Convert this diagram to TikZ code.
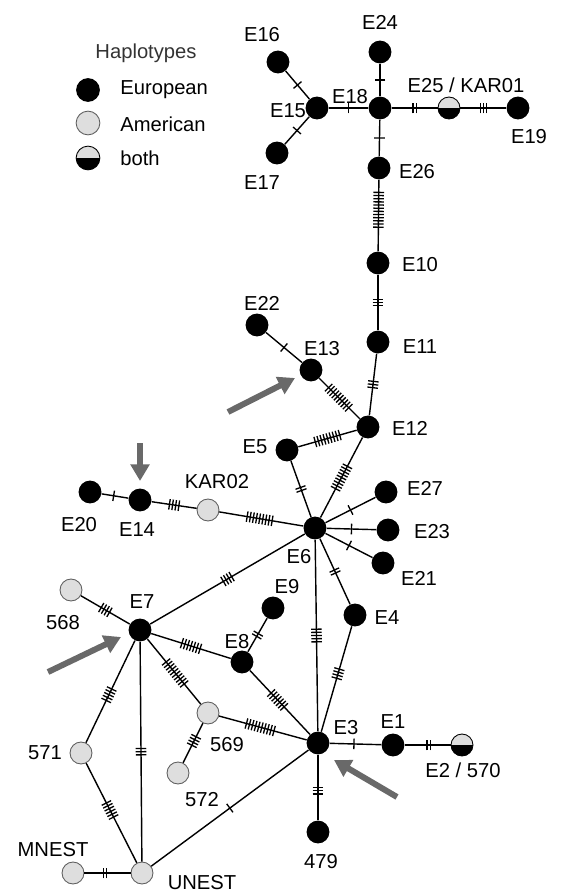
\documentclass[tikz,border=0pt]{standalone}
\usepackage{fontspec}
\setmainfont{Liberation Sans}
\usetikzlibrary{arrows.meta}

\definecolor{amgray}{RGB}{222,222,222}
\definecolor{rimgray}{RGB}{95,95,95}
\definecolor{arrowgray}{RGB}{105,105,105}

\tikzset{
  eu/.style={circle, fill=black, inner sep=0pt, minimum size=13pt},
  am/.style={circle, fill=amgray, draw=rimgray, line width=0.5pt, inner sep=0pt, minimum size=12.5pt},
  both/.style={am, draw=black, path picture={\fill[black] (path picture bounding box.west) rectangle (path picture bounding box.south east);}},
  lbl/.style={inner sep=0pt, font=\fontsize{11.5}{13}\selectfont},
  link/.style={line width=0.8pt},
  pointer/.style={arrowgray, line width=3.4pt, -{Triangle[length=9.5pt,width=10.5pt]}},
  mut/.pic={\foreach \k in {1,...,#1} \draw[line width=0.75pt] ({(\k-(#1+1)/2)*1.8pt},-3pt) -- ++(0,6pt);}
}

\begin{document}
\begin{tikzpicture}[x=0.02cm, y=-0.02cm]
\useasboundingbox (0,0) rectangle (568,892);

% legend
\node[lbl, text=black!80] (legtitle) at (146,53) {Haplotypes};
\node[eu, minimum size=13.5pt] (legeu) at (88,90) {};
\node[am, minimum size=13.5pt] (legam) at (88,123) {};
\node[both, minimum size=13.5pt] (legboth) at (88,158) {};
\node[lbl, anchor=west] (legeut) at (120,90) {European};
\node[lbl, anchor=west] (legamt) at (120,124) {American};
\node[lbl, anchor=west] (legbotht) at (120,158) {both};

% haplotypes
\node[eu] (E16) at (278,62) {};
\node[eu] (E15) at (317,108) {};
\node[eu] (E17) at (277,153) {};
\node[eu] (E18) at (380,108) {};
\node[eu] (E24) at (380,52) {};
\node[both] (E25) at (449,108) {};
\node[eu] (E19) at (518,108) {};
\node[eu] (E26) at (379,168) {};
\node[eu] (E10) at (378,263) {};
\node[eu] (E11) at (378,342) {};
\node[eu] (E12) at (368,427) {};
\node[eu] (E22) at (257,325) {};
\node[eu] (E13) at (311,370) {};
\node[eu] (E5) at (287,450) {};
\node[eu] (E6) at (315,528) {};
\node[eu] (E27) at (386,492) {};
\node[eu] (E23) at (388,530) {};
\node[eu] (E21) at (383,563) {};
\node[eu] (E4) at (355,615) {};
\node[eu] (E20) at (90,492) {};
\node[eu] (E14) at (140,500) {};
\node[am] (KAR02) at (208,510) {};
\node[eu] (E7) at (140,630) {};
\node[am] (n568) at (71,590) {};
\node[eu] (E9) at (273,608) {};
\node[eu] (E8) at (242,662) {};
\node[am] (n569) at (208,713) {};
\node[am] (n572) at (178,773) {};
\node[am] (n571) at (81,753) {};
\node[eu] (E3) at (318,743) {};
\node[eu] (E1) at (393,745) {};
\node[both] (E2) at (462,745) {};
\node[eu] (n479) at (318,832) {};
\node[am] (MNEST) at (73,873) {};
\node[am] (UNEST) at (142,873) {};

% links with mutation steps
\draw[link] (E15) -- (E16) pic[pos=.5,sloped]{mut=1};
\draw[link] (E15) -- (E17) pic[pos=.5,sloped]{mut=1};
\draw[link] (E15) -- (E18) pic[pos=.5,sloped]{mut=1};
\draw[link] (E18) -- (E24) pic[pos=.5,sloped]{mut=1};
\draw[link] (E18) -- (E25) pic[pos=.5,sloped]{mut=2};
\draw[link] (E25) -- (E19) pic[pos=.5,sloped]{mut=3};
\draw[link] (E18) -- (E26) pic[pos=.5,sloped]{mut=1};
\draw[link] (E26) -- (E10) pic[pos=.42,sloped]{mut=12};
\draw[link] (E10) -- (E11) pic[pos=.5,sloped]{mut=3};
\draw[link] (E11) -- (E12) pic[pos=.5,sloped]{mut=3};
\draw[link] (E22) -- (E13) pic[pos=.5,sloped]{mut=1};
\draw[link] (E13) -- (E12) pic[pos=.48,sloped]{mut=10};
\draw[link] (E5) -- (E12) pic[pos=.5,sloped]{mut=9};
\draw[link] (E12) -- (E6) pic[pos=.5,sloped]{mut=9};
\draw[link] (E5) -- (E6) pic[pos=.5,sloped]{mut=2};
\draw[link] (E6) -- (E27) pic[pos=.5,sloped]{mut=1};
\draw[link] (E6) -- (E23) pic[pos=.5,sloped]{mut=1};
\draw[link] (E6) -- (E21) pic[pos=.5,sloped]{mut=1};
\draw[link] (E6) -- (E4) pic[pos=.5,sloped]{mut=2};
\draw[link] (E4) -- (E3) pic[pos=.45,sloped]{mut=4};
\draw[link] (E6) -- (E3) pic[pos=.5,sloped]{mut=5};
\draw[link] (E20) -- (E14) pic[pos=.45,sloped]{mut=1};
\draw[link] (E14) -- (KAR02) pic[pos=.5,sloped]{mut=4};
\draw[link] (KAR02) -- (E6) pic[pos=.48,sloped]{mut=9};
\draw[link] (E7) -- (E6) pic[pos=.5,sloped]{mut=4};
\draw[link] (n568) -- (E7) pic[pos=.5,sloped]{mut=4};
\draw[link] (E7) -- (E8) pic[pos=.5,sloped]{mut=7};
\draw[link] (E8) -- (E9) pic[pos=.5,sloped]{mut=2};
\draw[link] (E8) -- (E3) pic[pos=.46,sloped]{mut=7};
\draw[link] (E7) -- (n569) pic[pos=.52,sloped]{mut=10};
\draw[link] (n569) -- (E3) pic[pos=.47,sloped]{mut=10};
\draw[link] (n569) -- (n572) pic[pos=.45,sloped]{mut=4};
\draw[link] (E7) -- (n571) pic[pos=.53,sloped]{mut=5};
\draw[link] (n571) -- (UNEST) pic[pos=.47,sloped]{mut=6};
\draw[link] (E7) -- (UNEST) pic[pos=.5,sloped]{mut=3};
\draw[link] (MNEST) -- (UNEST) pic[pos=.45,sloped]{mut=2};
\draw[link] (UNEST) -- (E3) pic[pos=.5,sloped]{mut=1};
\draw[link] (E3) -- (E1) pic[pos=.47,sloped]{mut=1};
\draw[link] (E1) -- (E2) pic[pos=.52,sloped]{mut=2};
\draw[link] (E3) -- (n479) pic[pos=.55,sloped]{mut=3};

% names
\node[lbl] (tE24) at (380,22) {E24};
\node[lbl] (tE16) at (262,35) {E16};
\node[lbl] (tE18) at (350,97) {E18};
\node[lbl] (tE25) at (466,85) {E25 / KAR01};
\node[lbl] (tE15) at (288,111) {E15};
\node[lbl] (tE19) at (529,137) {E19};
\node[lbl] (tE17) at (262,183) {E17};
\node[lbl] (tE26) at (417,172) {E26};
\node[lbl] (tE10) at (420,265) {E10};
\node[lbl] (tE22) at (262,303) {E22};
\node[lbl] (tE13) at (322,349) {E13};
\node[lbl] (tE11) at (420,347) {E11};
\node[lbl] (tE12) at (410,428) {E12};
\node[lbl] (tE5) at (255,447) {E5};
\node[lbl] (tKAR02) at (217,482) {KAR02};
\node[lbl] (tE27) at (425,488) {E27};
\node[lbl] (tE20) at (79,525) {E20};
\node[lbl] (tE14) at (137,530) {E14};
\node[lbl] (tE23) at (432,532) {E23};
\node[lbl] (tE6) at (299,557) {E6};
\node[lbl] (tE21) at (419,578) {E21};
\node[lbl] (tE9) at (287,587) {E9};
\node[lbl] (tE7) at (142,602) {E7};
\node[lbl] (t568) at (63,623) {568};
\node[lbl] (tE4) at (387,618) {E4};
\node[lbl] (tE8) at (237,642) {E8};
\node[lbl] (tE1) at (393,722) {E1};
\node[lbl] (tE3) at (346,728) {E3};
\node[lbl] (t571) at (45,753) {571};
\node[lbl] (t569) at (227,745) {569};
\node[lbl] (tE2) at (463,770) {E2 / 570};
\node[lbl] (t572) at (202,800) {572};
\node[lbl] (tMNEST) at (53,850) {MNEST};
\node[lbl] (t479) at (321,862) {479};
\node[lbl] (tUNEST) at (202,883) {UNEST};

% arrows
\coordinate (a1s) at (140,443);
\coordinate (a1e) at (140,481);
\coordinate (a2s) at (228,412);
\coordinate (a2e) at (295,378);
\coordinate (a3s) at (48,672);
\coordinate (a3e) at (121,637);
\coordinate (a4s) at (397,797);
\coordinate (a4e) at (334,760);
\draw[pointer] (a1s) -- (a1e);
\draw[pointer] (a2s) -- (a2e);
\draw[pointer] (a3s) -- (a3e);
\draw[pointer] (a4s) -- (a4e);
\end{tikzpicture}
\end{document}
